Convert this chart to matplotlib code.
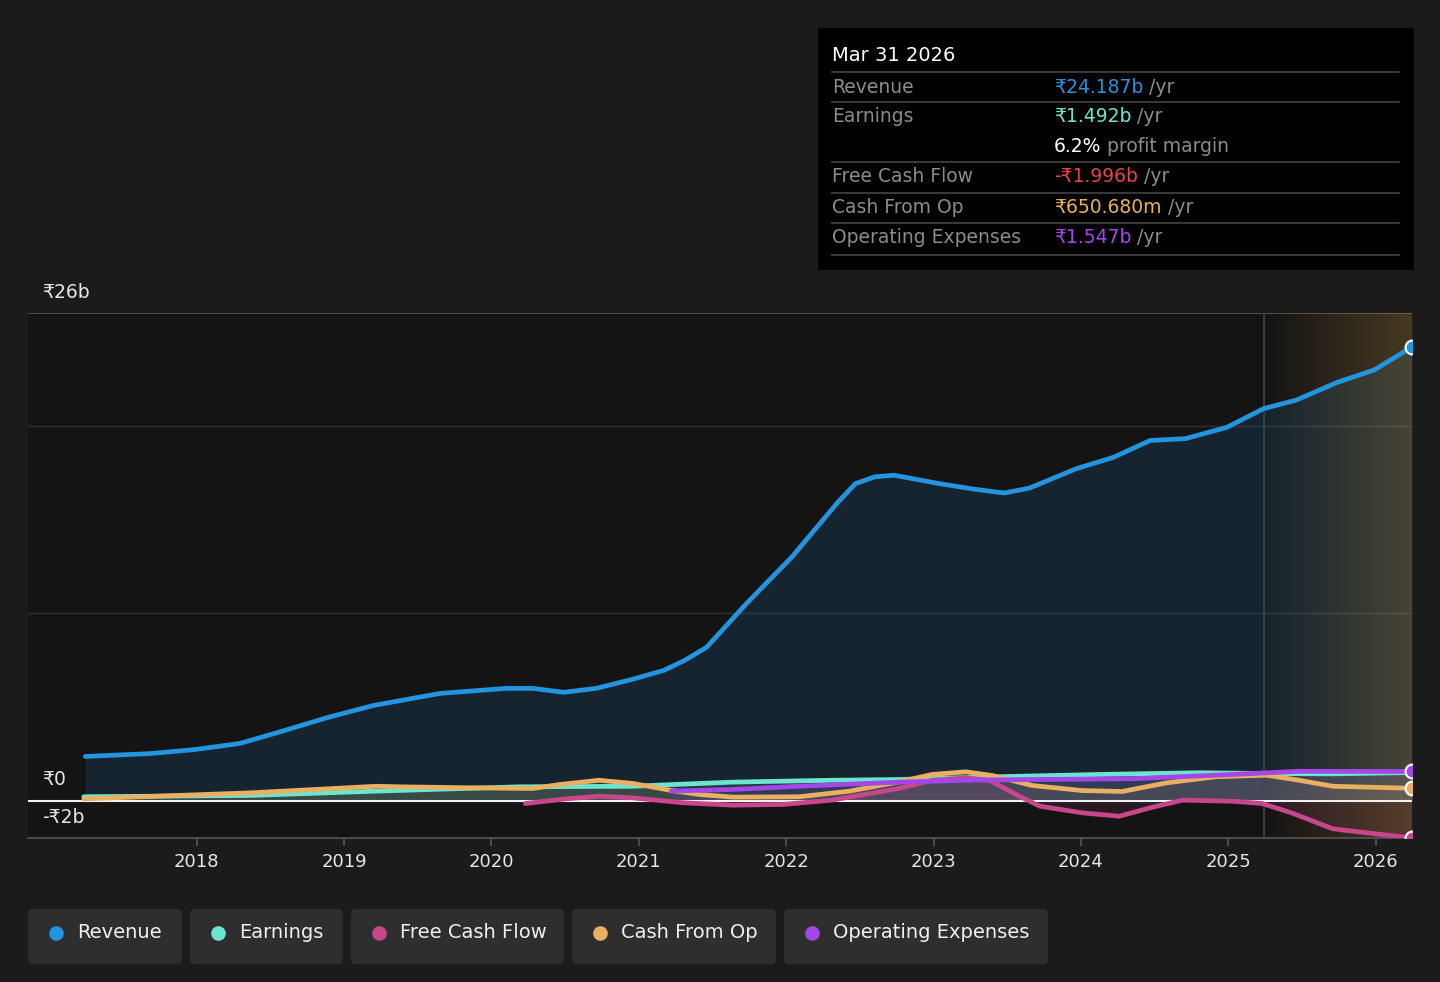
import matplotlib
matplotlib.use('Agg')
import matplotlib.pyplot as plt
from matplotlib.patches import Rectangle, FancyBboxPatch
import numpy as np

plt.rcParams['font.family'] = ['DejaVu Sans']

# ---- data (₹ billions, decimal years) ----
rev_t = [2017.244, 2017.68, 2017.99, 2018.29, 2018.53, 2018.89, 2019.20, 2019.65, 2020.10, 2020.28,
         2020.49, 2020.71, 2020.95, 2021.17, 2021.31, 2021.46, 2021.73, 2022.04, 2022.35, 2022.47,
         2022.60, 2022.73, 2023.04, 2023.28, 2023.48, 2023.65, 2023.97, 2024.22, 2024.47, 2024.71,
         2024.99, 2025.24, 2025.46, 2025.74, 2025.99, 2026.247]
revenue = [2.35, 2.5, 2.72, 3.04, 3.58, 4.43, 5.07, 5.71, 5.98, 5.98,
           5.77, 5.98, 6.45, 6.94, 7.47, 8.17, 10.5, 13.0, 15.9, 16.9,
           17.26, 17.35, 16.9, 16.6, 16.4, 16.66, 17.7, 18.3, 19.2, 19.3,
           19.9, 20.9, 21.35, 22.3, 22.96, 24.187]

earn_t = [2017.234, 2018.37, 2019.22, 2020.19, 2020.96, 2021.23, 2021.64, 2022.31, 2022.77, 2023.45,
          2024.13, 2024.80, 2025.26, 2025.71, 2026.247]
earnings = [0.2, 0.27, 0.5, 0.73, 0.76, 0.85, 0.98, 1.08, 1.12, 1.27,
            1.39, 1.48, 1.44, 1.42, 1.492]

cfo_t = [2017.234, 2018.37, 2019.22, 2019.38, 2019.83, 2020.28, 2020.46, 2020.73, 2020.96, 2021.21,
         2021.41, 2021.64, 2022.09, 2022.43, 2022.77, 2022.99, 2023.22, 2023.40, 2023.67, 2024.01,
         2024.28, 2024.58, 2024.92, 2025.26, 2025.48, 2025.71, 2026.247]
cfo = [0.09, 0.41, 0.76, 0.73, 0.68, 0.64, 0.85, 1.08, 0.91, 0.55,
       0.32, 0.18, 0.2, 0.5, 1.0, 1.39, 1.53, 1.33, 0.8, 0.53,
       0.48, 0.94, 1.27, 1.35, 1.08, 0.76, 0.651]

fcf_t = [2020.23, 2020.51, 2020.73, 2020.96, 2021.30, 2021.64, 2021.98, 2022.31, 2022.77, 2022.99,
         2023.22, 2023.38, 2023.56, 2023.72, 2024.01, 2024.26, 2024.47, 2024.69, 2025.03, 2025.23,
         2025.43, 2025.71, 2025.98, 2026.247]
fcf = [-0.16, 0.09, 0.23, 0.14, -0.12, -0.25, -0.21, 0.02, 0.65, 1.08,
       1.21, 1.08, 0.32, -0.3, -0.66, -0.84, -0.39, 0.02, -0.04, -0.16,
       -0.66, -1.51, -1.76, -1.996]

opex_t = [2021.22, 2021.64, 2022.09, 2022.77, 2023.22, 2023.67, 2024.35, 2025.03, 2025.48, 2026.247]
opex = [0.5, 0.59, 0.76, 0.98, 1.08, 1.12, 1.16, 1.39, 1.56, 1.547]

years = list(range(2018, 2027))
names = ['Revenue', 'Earnings', 'Free Cash Flow', 'Cash From Op', 'Operating Expenses']
colors = ['#2394df', '#6ce5d0', '#c8468a', '#e8b060', '#a446e8']
forecast_start = 2025.245

# ---- figure ----
fig = plt.figure(figsize=(14.4, 9.82), dpi=100, facecolor='#1b1b1b')
ax = fig.add_axes([28/1440, 1-838/982, 1384/1440, 525/982])
ax.set_facecolor('#141414')
ax.set_xlim(2016.855, 2026.247)
ax.set_ylim(-2, 26)

series = [(rev_t, revenue), (earn_t, earnings), (fcf_t, fcf), (cfo_t, cfo), (opex_t, opex)]

# fills
ax.fill_between(rev_t, revenue, 0, color=colors[0], alpha=0.13, lw=0, zorder=1)
for (t, v), c in zip(series[1:], colors[1:]):
    ax.fill_between(t, v, 0, color=c, alpha=0.12, lw=0, zorder=1)

# forecast shading
grad = np.zeros((1, 256, 4))
grad[..., 0] = 0.82
grad[..., 1] = 0.62
grad[..., 2] = 0.28
grad[..., 3] = np.linspace(0, 0.27, 256)
ax.imshow(grad, extent=[forecast_start, 2026.247, -2, 26], aspect='auto', zorder=1.5, interpolation='bilinear')
ax.axvline(forecast_start, color='#46443a', lw=1.2, zorder=1.6)

# gridlines
for g in [10, 20]:
    ax.axhline(g, color='#2f2f2f', lw=1, zorder=0.5)
ax.axhline(26, color='#555555', lw=1.2, zorder=0.5)
ax.axhline(0, color='#f0f0f0', lw=1.5, zorder=2)

# lines
order = [1, 3, 2, 4, 0]
for i in order:
    t, v = series[i]
    ax.plot(t, v, color=colors[i], lw=3.4, solid_capstyle='round', solid_joinstyle='round', zorder=3)
for i in [0, 2, 3, 4]:
    t, v = series[i]
    ax.plot(t[-1], v[-1], 'o', ms=10, color=colors[i], mec='white', mew=1.5, zorder=4)

# axes styling
for s in ['top', 'left', 'right']:
    ax.spines[s].set_visible(False)
ax.spines['bottom'].set_color('#555555')
ax.spines['bottom'].set_linewidth(1.2)
ax.set_yticks([])
ax.set_xticks(years)
ax.set_xticklabels([str(y) for y in years])
ax.tick_params(axis='x', colors='#555555', labelcolor='#e6e6e6', labelsize=13, length=6, width=1.2, pad=5)

for val, lab in [(26, '₹26b'), (0, '₹0'), (-2, '-₹2b')]:
    ax.annotate(lab, xy=(0, val), xycoords=('axes fraction', 'data'), xytext=(10, 15),
                textcoords='offset points', color='#e6e6e6', fontsize=13.5, va='center', ha='left')

# ---- overlay: tooltip and legend ----
ov = fig.add_axes([0, 0, 1, 1], zorder=10)
ov.set_xlim(0, 1440)
ov.set_ylim(982, 0)
ov.axis('off')

ov.add_patch(Rectangle((818, 28), 596, 242, color='black', lw=0))
ov.text(832, 55, 'Mar 31 2026', color='white', fontsize=14, va='center')
for y in [72, 102, 162, 193, 223, 255]:
    ov.plot([832, 1399], [y, y], color='#444444', lw=1.2)

rows = [
    ('Revenue', '₹24.187b', colors[0], ' /yr', 87),
    ('Earnings', '₹1.492b', colors[1], ' /yr', 116),
    ('', '6.2%', 'white', ' profit margin', 146),
    ('Free Cash Flow', '-₹1.996b', '#e84545', ' /yr', 176),
    ('Cash From Op', '₹650.680m', colors[3], ' /yr', 207),
    ('Operating Expenses', '₹1.547b', colors[4], ' /yr', 237),
]
for lab, val, c, suffix, y in rows:
    if lab:
        ov.text(832, y, lab, color='#8c8c8c', fontsize=13.5, va='center')
    t = ov.text(1054, y, val, color=c, fontsize=13.5, va='center')
    ov.annotate(suffix, xy=(1, 0.5), xycoords=t, color='#8c8c8c', fontsize=13.5, va='center', ha='left')

legend_boxes = [(28, 154), (190, 153), (351, 213), (572, 204), (784, 264)]
for (x0, w), name, c in zip(legend_boxes, names, colors):
    ov.add_patch(FancyBboxPatch((x0, 909), w, 55, boxstyle='round,pad=0,rounding_size=5',
                                fc='#2e2e2e', ec='none'))
    ov.plot(x0 + 28, 933, 'o', ms=9.5, color=c)
    ov.text(x0 + 49, 933, name, color='#f0f0f0', fontsize=14, va='center')

fig.savefig('out.png', dpi=100, facecolor=fig.get_facecolor())
